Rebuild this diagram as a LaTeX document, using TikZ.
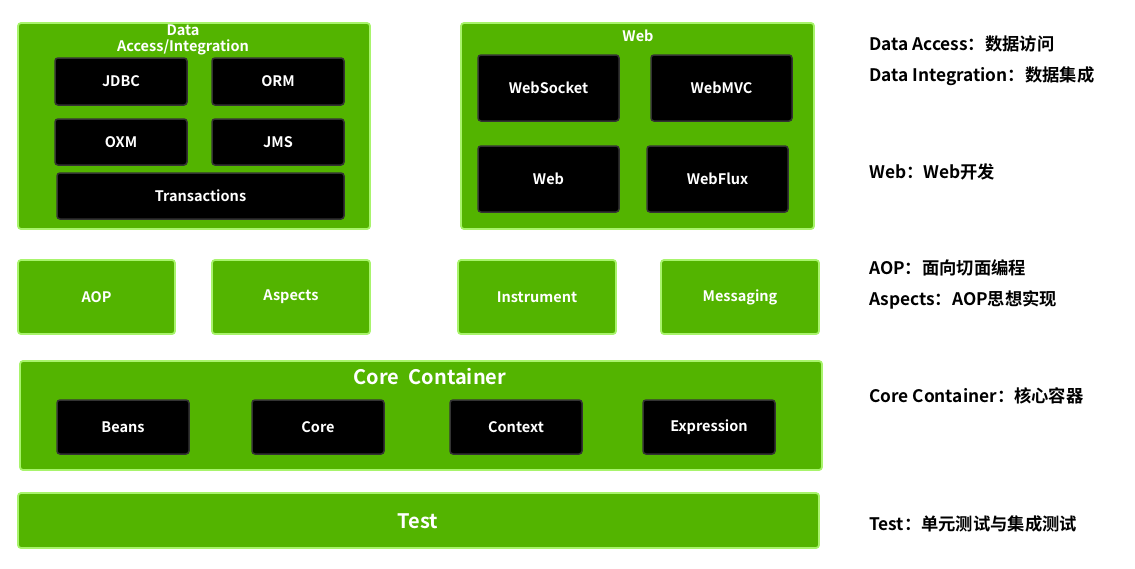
\documentclass[tikz,border=0pt]{standalone}
\usepackage{fontspec}
\setmainfont{Noto Sans CJK SC}[BoldFont={* Bold}]
\definecolor{grn}{HTML}{53B400}
\definecolor{grnb}{HTML}{A8F46C}
\definecolor{blkb}{HTML}{333333}
\begin{document}
\begin{tikzpicture}[x=1pt,y=-1pt,
  grp/.style={draw=grnb, line width=1.8pt, fill=grn, rounded corners=3pt, inner sep=0pt},
  blk/.style={draw=blkb, line width=1.5pt, fill=black, rounded corners=3pt, inner sep=0pt,
    text=white, font=\fontsize{14.5}{16}\selectfont\bfseries},
  gtitle/.style={text=white, font=\fontsize{14.5}{16}\selectfont\bfseries, inner sep=0pt, align=center},
  big/.style={text=white, font=\fontsize{20}{23}\selectfont\bfseries, inner sep=0pt},
  note/.style={anchor=west, inner sep=0pt, font=\fontsize{17.3}{19}\selectfont\bfseries}]
\useasboundingbox (0,0) rectangle (1135,568);
% Data Access/Integration
\node[grp, minimum width=352, minimum height=206] (da) at (194,126) {};
\node[gtitle, font=\fontsize{14.5}{16}\selectfont\bfseries] (dat) at (183,39.5) {Data\\Access/Integration};
\node[blk, minimum width=132, minimum height=47] (jdbc) at (121,81.5) {JDBC};
\node[blk, minimum width=132, minimum height=47] (orm) at (278,81.5) {ORM};
\node[blk, minimum width=132, minimum height=46] (oxm) at (121,142) {OXM};
\node[blk, minimum width=132, minimum height=46] (jms) at (278,142) {JMS};
\node[blk, minimum width=287, minimum height=46] (tx) at (200.5,196) {Transactions};
% Web
\node[grp, minimum width=353, minimum height=206] (web) at (637.5,126) {};
\node[gtitle] (webt) at (638,36) {Web};
\node[blk, minimum width=141, minimum height=66] (ws) at (548.5,88) {WebSocket};
\node[blk, minimum width=141, minimum height=66] (mvc) at (721.5,88) {WebMVC};
\node[blk, minimum width=141, minimum height=66] (wb) at (548.5,179) {Web};
\node[blk, minimum width=141, minimum height=66] (flux) at (717.5,179) {WebFlux};
% middle row
\node[grp, minimum width=157, minimum height=74, gtitle] (aop) at (96.5,297) {AOP};
\node[grp, minimum width=158, minimum height=74, gtitle] (asp) at (291,297) {Aspects};
\node[grp, minimum width=158, minimum height=74, gtitle] (ins) at (537,297) {Instrument};
\node[grp, minimum width=158, minimum height=74, gtitle] (msg) at (740,297) {Messaging};
% Core Container
\node[grp, minimum width=802, minimum height=109] (cc) at (421,415.5) {};
\node[big] (cct) at (430,377) {Core\ \ Container};
\node[blk, minimum width=132, minimum height=54] (beans) at (123,427) {Beans};
\node[blk, minimum width=132, minimum height=54] (core) at (318,427) {Core};
\node[blk, minimum width=132, minimum height=54] (ctx) at (516,427) {Context};
\node[blk, minimum width=132, minimum height=54] (expr) at (709,427) {Expression};
% Test
\node[grp, minimum width=801, minimum height=55] (test) at (418.5,520.5) {};
\node[big] (testt) at (418,521) {Test};
% notes
\node[note] (n1) at (869,44) {Data Access：数据访问};
\node[note] (n2) at (869,76) {Data Integration：数据集成};
\node[note] (n3) at (869,172) {Web：Web开发};
\node[note] (n4) at (869,268) {AOP：面向切面编程};
\node[note] (n5) at (869,300) {Aspects：AOP思想实现};
\node[note] (n6) at (869,396) {Core Container：核心容器};
\node[note] (n7) at (869,524) {Test：单元测试与集成测试};
\end{tikzpicture}
\end{document}
